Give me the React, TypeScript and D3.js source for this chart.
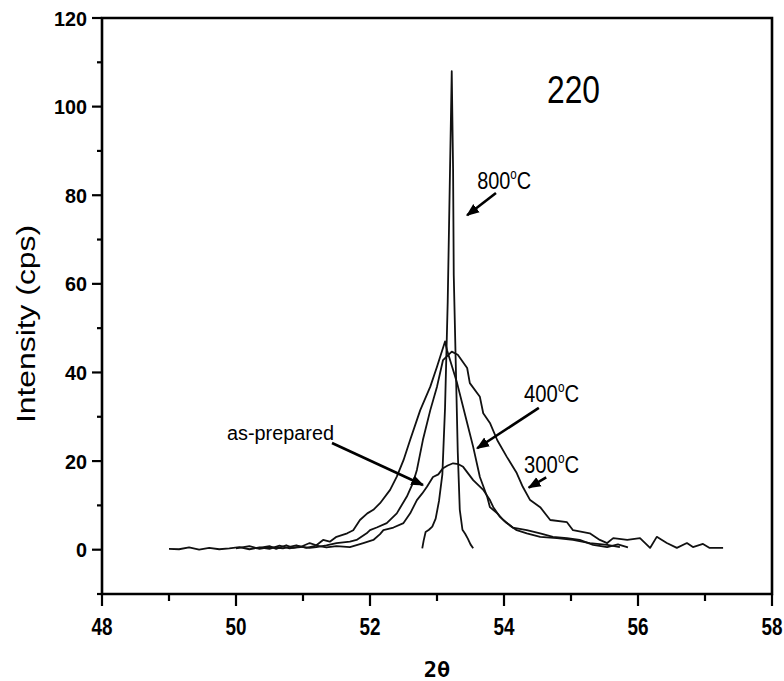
import { useEffect, useRef } from "react";
import * as d3 from "d3";

// 2theta (deg) / intensity (cps)
const x300 = [49.0, 49.15, 49.3, 49.45, 49.6, 49.75, 49.9, 50.05, 50.2, 50.35, 50.5, 50.65, 50.8, 50.95, 51.1, 51.2, 51.35, 51.5, 51.7, 51.8, 51.95, 52.0, 52.1, 52.25, 52.4, 52.55, 52.64, 52.7, 52.79, 52.9, 53.0, 53.09, 53.22, 53.31, 53.45, 53.49, 53.64, 53.69, 53.79, 53.9, 54.04, 54.19, 54.28, 54.39, 54.54, 54.69, 54.94, 55.03, 55.28, 55.43, 55.54, 55.63, 55.84, 56.03, 56.18, 56.28, 56.43, 56.58, 56.73, 56.82, 56.97, 57.07, 57.27];
const y300 = [0.2, 0.1, 0.5, 0.0, 0.4, 0.1, 0.3, 0.6, 0.1, 0.5, 0.2, 0.9, 0.3, 0.7, 0.4, 0.6, 1.0, 1.5, 1.8, 2.2, 3.7, 4.4, 5.0, 6.0, 8.2, 12.0, 15.0, 18.0, 24.8, 31.5, 36.8, 42.8, 44.7, 44.0, 41.0, 37.6, 34.5, 30.8, 28.6, 24.7, 21.0, 17.3, 14.2, 11.2, 9.6, 6.7, 6.2, 4.4, 3.7, 2.2, 1.5, 2.6, 2.2, 2.6, 0.4, 2.9, 1.5, 0.4, 1.5, 0.6, 1.3, 0.4, 0.4];

const x400 = [50.3, 50.5, 50.6, 50.75, 50.85, 50.96, 51.1, 51.2, 51.3, 51.4, 51.5, 51.58, 51.66, 51.75, 51.85, 51.96, 52.05, 52.15, 52.3, 52.4, 52.5, 52.6, 52.75, 52.9, 53.0, 53.12, 53.15, 53.3, 53.45, 53.54, 53.64, 53.75, 53.79, 53.9, 53.99, 54.13, 54.34, 54.54, 54.73, 54.94, 55.13, 55.33, 55.54, 55.7, 55.85];
const y400 = [0.3, 0.8, 0.2, 1.0, 0.4, 0.6, 1.5, 1.0, 2.2, 1.8, 2.9, 3.3, 3.7, 4.4, 6.7, 8.2, 9.0, 10.5, 13.5, 16.5, 20.2, 24.8, 31.5, 36.8, 41.3, 47.0, 45.0, 37.6, 28.6, 23.2, 16.4, 11.9, 9.6, 8.2, 6.7, 5.0, 4.4, 3.7, 2.9, 2.6, 2.2, 1.1, 0.6, 1.2, 0.5];

const xPrep = [50.0, 50.2, 50.35, 50.5, 50.7, 50.9, 51.05, 51.2, 51.35, 51.5, 51.7, 51.9, 52.05, 52.15, 52.2, 52.35, 52.5, 52.6, 52.7, 52.78, 52.85, 52.94, 53.02, 53.09, 53.16, 53.24, 53.32, 53.39, 53.54, 53.69, 53.79, 53.84, 53.94, 54.04, 54.19, 54.34, 54.54, 54.79, 55.03, 55.28, 55.54, 55.73];
const yPrep = [0.3, 0.8, 0.2, 0.6, 0.3, 1.0, 0.4, 0.9, 0.5, 0.8, 0.6, 1.5, 2.2, 3.5, 4.4, 5.0, 6.0, 8.2, 11.2, 12.7, 14.2, 16.4, 17.0, 18.4, 19.0, 19.5, 19.3, 18.7, 15.7, 13.5, 11.2, 9.6, 7.4, 6.0, 4.4, 3.7, 2.9, 2.6, 2.2, 1.5, 1.1, 0.6];

const x800 = [52.78, 52.8, 52.83, 52.88, 52.93, 52.98, 53.03, 53.08, 53.12, 53.16, 53.19, 53.22, 53.24, 53.25, 53.28, 53.31, 53.34, 53.38, 53.42, 53.46, 53.5, 53.54];
const y800 = [0.3, 2.0, 4.0, 4.5, 5.2, 7.0, 11.0, 17.0, 32.0, 56.0, 82.0, 108.0, 86.0, 62.0, 42.0, 22.0, 9.0, 4.5, 3.6, 2.5, 1.2, 0.3];

const xMajor = [48, 50, 52, 54, 56, 58];
const xMinor = [49, 51, 53, 55, 57];
const yMajor = [0, 20, 40, 60, 80, 100, 120];
const yMinor = [-10, 10, 30, 50, 70, 90, 110];

// label text, anchor point [2theta, cps], arrow tail and tip [2theta, cps]
const notes = [
  { main: "800", sup: "o", tail: "C", at: [53.6, 81.5], w: 54, from: [53.88, 80.5], to: [53.45, 75.5] },
  { main: "400", sup: "o", tail: "C", at: [54.3, 33.3], w: 55, from: [54.52, 32], to: [53.6, 22.9] },
  { main: "300", sup: "o", tail: "C", at: [54.3, 17.3], w: 55, from: [54.63, 16.3], to: [54.37, 14] },
];

export default function App() {
  const ref = useRef<SVGSVGElement>(null);

  useEffect(() => {
    const svg = d3.select(ref.current);
    svg.selectAll("*").remove();

    const x = d3.scaleLinear().domain([48, 58]).range([102, 772]);
    const y = d3.scaleLinear().domain([-10, 120]).range([594, 18]);
    const font = "'Liberation Sans', Arial, Helvetica, sans-serif";

    const defs = svg.append("defs");
    defs.append("marker")
      .attr("id", "head")
      .attr("viewBox", "0 0 10 10")
      .attr("refX", 9).attr("refY", 5)
      .attr("markerWidth", 5).attr("markerHeight", 5)
      .attr("orient", "auto")
      .append("path").attr("d", "M0,1 L10,5 L0,9 Z").attr("fill", "#000");

    // curves
    const line = d3.line<[number, number]>().x(d => x(d[0])).y(d => y(d[1]));
    const series = [[x300, y300], [x400, y400], [xPrep, yPrep], [x800, y800]];
    series.forEach(([xs, ys]) => {
      const pts = xs.map((v, i) => [v, ys[i]] as [number, number]);
      svg.append("path")
        .attr("d", line(pts))
        .attr("fill", "none")
        .attr("stroke", "#111")
        .attr("stroke-width", 1.8)
        .attr("stroke-linejoin", "round");
    });

    // frame
    svg.append("path")
      .attr("d", `M${x(48)},${y(120)} L${x(58)},${y(120)} L${x(58)},${y(-10)} L${x(48)},${y(-10)} Z`)
      .attr("fill", "none").attr("stroke", "#000").attr("stroke-width", 2.6);

    const g = svg.append("g").attr("stroke", "#000").attr("stroke-width", 2.2);
    yMajor.forEach(v => g.append("line").attr("x1", x(48) - 10).attr("x2", x(48)).attr("y1", y(v)).attr("y2", y(v)));
    yMinor.forEach(v => g.append("line").attr("x1", x(48) - 5).attr("x2", x(48)).attr("y1", y(v)).attr("y2", y(v)));
    xMajor.forEach(v => g.append("line").attr("x1", x(v)).attr("x2", x(v)).attr("y1", y(-10)).attr("y2", y(-10) + 12));
    xMinor.forEach(v => g.append("line").attr("x1", x(v)).attr("x2", x(v)).attr("y1", y(-10)).attr("y2", y(-10) + 7));

    // tick labels
    yMajor.forEach(v => {
      const s = String(v);
      svg.append("text")
        .attr("x", 87).attr("y", y(v) + 7.5)
        .attr("text-anchor", "end")
        .attr("font-family", font).attr("font-weight", "bold").attr("font-size", 21)
        .attr("textLength", s.length * 11).attr("lengthAdjust", "spacingAndGlyphs")
        .text(s);
    });
    xMajor.forEach(v => {
      svg.append("text")
        .attr("x", x(v)).attr("y", 635)
        .attr("text-anchor", "middle")
        .attr("font-family", font).attr("font-weight", "bold").attr("font-size", 24)
        .attr("textLength", 21).attr("lengthAdjust", "spacingAndGlyphs")
        .text(String(v));
    });

    // axis titles
    svg.append("text")
      .attr("transform", `translate(35,324) rotate(-90)`)
      .attr("text-anchor", "middle")
      .attr("font-family", font).attr("font-size", 25)
      .attr("textLength", 198).attr("lengthAdjust", "spacingAndGlyphs")
      .text("Intensity (cps)");
    svg.append("text")
      .attr("x", 437).attr("y", 677)
      .attr("text-anchor", "middle")
      .attr("font-family", "'DejaVu Sans Mono', 'Liberation Mono', monospace")
      .attr("font-weight", "bold").attr("font-size", 22)
      .text("2θ");

    // reflection label
    svg.append("text")
      .attr("x", 547).attr("y", 103)
      .attr("font-family", font).attr("font-size", 38)
      .attr("textLength", 53).attr("lengthAdjust", "spacingAndGlyphs")
      .text("220");

    // temperature annotations
    notes.forEach(n => {
      const t = svg.append("text")
        .attr("x", x(n.at[0])).attr("y", y(n.at[1]))
        .attr("font-family", font).attr("font-size", 24)
        .attr("textLength", n.w).attr("lengthAdjust", "spacingAndGlyphs");
      t.append("tspan").text(n.main);
      t.append("tspan").attr("font-size", 14).attr("dy", -10).text(n.sup);
      t.append("tspan").attr("dy", 10).text(n.tail);
      svg.append("line")
        .attr("x1", x(n.from[0])).attr("y1", y(n.from[1]))
        .attr("x2", x(n.to[0])).attr("y2", y(n.to[1]))
        .attr("stroke", "#000").attr("stroke-width", 2.6)
        .attr("marker-end", "url(#head)");
    });

    svg.append("text")
      .attr("x", 227).attr("y", 440)
      .attr("font-family", font).attr("font-size", 20)
      .attr("textLength", 107).attr("lengthAdjust", "spacingAndGlyphs")
      .text("as-prepared");
    svg.append("line")
      .attr("x1", 332).attr("y1", 443)
      .attr("x2", x(52.79)).attr("y2", y(14.6))
      .attr("stroke", "#000").attr("stroke-width", 2.6)
      .attr("marker-end", "url(#head)");
  }, []);

  return (
    <svg
      ref={ref}
      width={784}
      height={681}
      style={{ position: "absolute", left: 0, top: 0, background: "#fff" }}
    />
  );
}
